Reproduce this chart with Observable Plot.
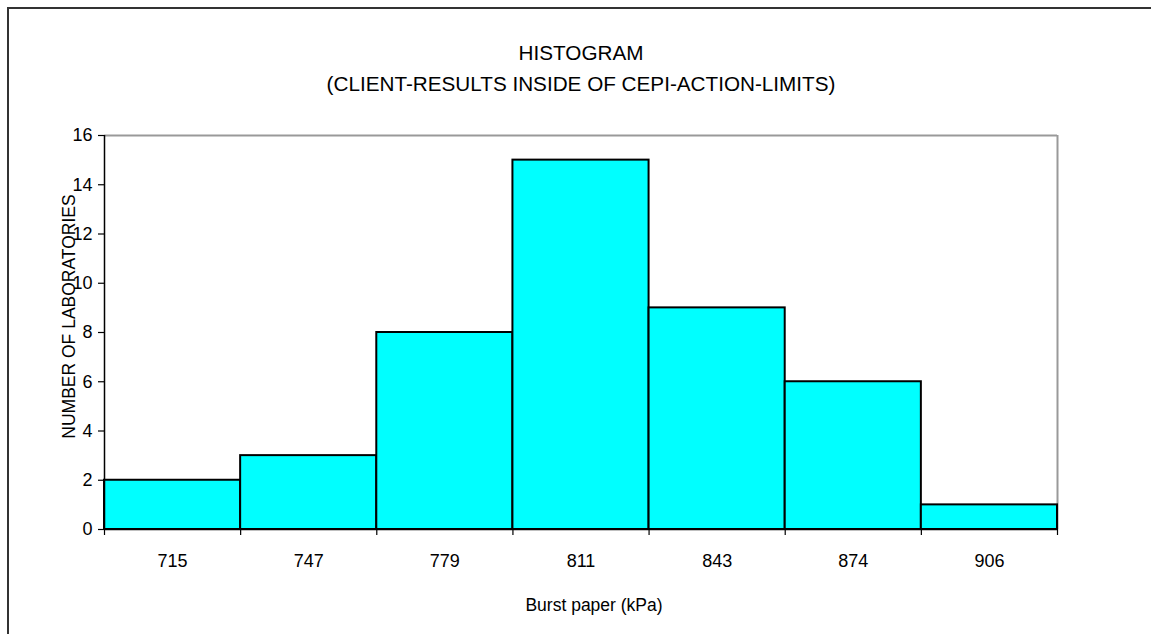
<!DOCTYPE html>
<html>
<head>
<meta charset="utf-8">
<script src="https://cdn.jsdelivr.net/npm/d3@7"></script>
<script src="https://cdn.jsdelivr.net/npm/@observablehq/plot@0.6"></script>
<style>
  html, body { margin: 0; padding: 0; background: #fff; }
  #chart { position: relative; width: 1151px; height: 634px; overflow: hidden; }
  #border { position: absolute; left: 7px; top: 7px; width: 1200px; height: 700px;
            border-left: 2px solid #333; border-top: 2px solid #333; box-sizing: border-box; }
  #chart svg { position: absolute; left: 0; top: 0; }
</style>
</head>
<body>
<div id="chart"><div id="border"></div></div>
<script>
const categories = ["715", "747", "779", "811", "843", "874", "906"];
const counts = [2, 3, 8, 15, 9, 6, 1];
const yTicks = [0, 2, 4, 6, 8, 10, 12, 14, 16];
const title = "HISTOGRAM";
const subtitle = "(CLIENT-RESULTS INSIDE OF CEPI-ACTION-LIMITS)";
const xLabel = "Burst paper (kPa)";
const yLabel = "NUMBER OF LABORATORIES";

const data = categories.map((c, i) => ({cat: c, i, count: counts[i]}));
const edges = d3.range(categories.length + 1);
const font = "Arial, 'Liberation Sans', sans-serif";

const plot = Plot.plot({
  width: 1151,
  height: 634,
  marginLeft: 104,
  marginRight: 94,
  marginTop: 135,
  marginBottom: 105,
  style: {fontFamily: font, fontSize: "18px", color: "#000", background: "transparent"},
  x: {type: "linear", domain: [0, categories.length], axis: null},
  y: {domain: [0, 16], axis: null},
  marks: [
    Plot.ruleY([16], {stroke: "#999", strokeWidth: 2}),
    Plot.ruleX([categories.length], {stroke: "#999", strokeWidth: 2}),
    Plot.rectY(data, {x1: "i", x2: d => d.i + 1, y1: 0, y2: "count", fill: "#00FFFF", stroke: "#000", strokeWidth: 2}),
    Plot.ruleX([0], {stroke: "#000", strokeWidth: 1.5}),
    Plot.ruleY([0], {stroke: "#000", strokeWidth: 1.5}),
    Plot.axisY({ticks: yTicks, tickSize: 6, tickPadding: 6, label: null, fontSize: 18, stroke: "#000", strokeWidth: 1.2}),
    Plot.axisX({ticks: edges, tickSize: 6, tickFormat: () => "", label: null, stroke: "#000", strokeWidth: 1.2}),
    Plot.text(data, {x: d => d.i + 0.5, y: 0, text: "cat", dy: 32, fontSize: 18, lineAnchor: "middle"}),
    Plot.text([xLabel], {frameAnchor: "bottom", dy: 76, dx: 13, fontSize: 17.5, lineAnchor: "middle"}),
    Plot.text([title], {frameAnchor: "top", dy: -82, fontSize: 20.7, lineAnchor: "middle"}),
    Plot.text([subtitle], {frameAnchor: "top", dy: -51, fontSize: 20.7, lineAnchor: "middle"}),
    Plot.text([yLabel], {frameAnchor: "left", dx: -35, dy: -16, rotate: -90, textAnchor: "middle", fontSize: 17.5, lineAnchor: "middle"})
  ]
});
document.getElementById("chart").appendChild(plot);
</script>
</body>
</html>
